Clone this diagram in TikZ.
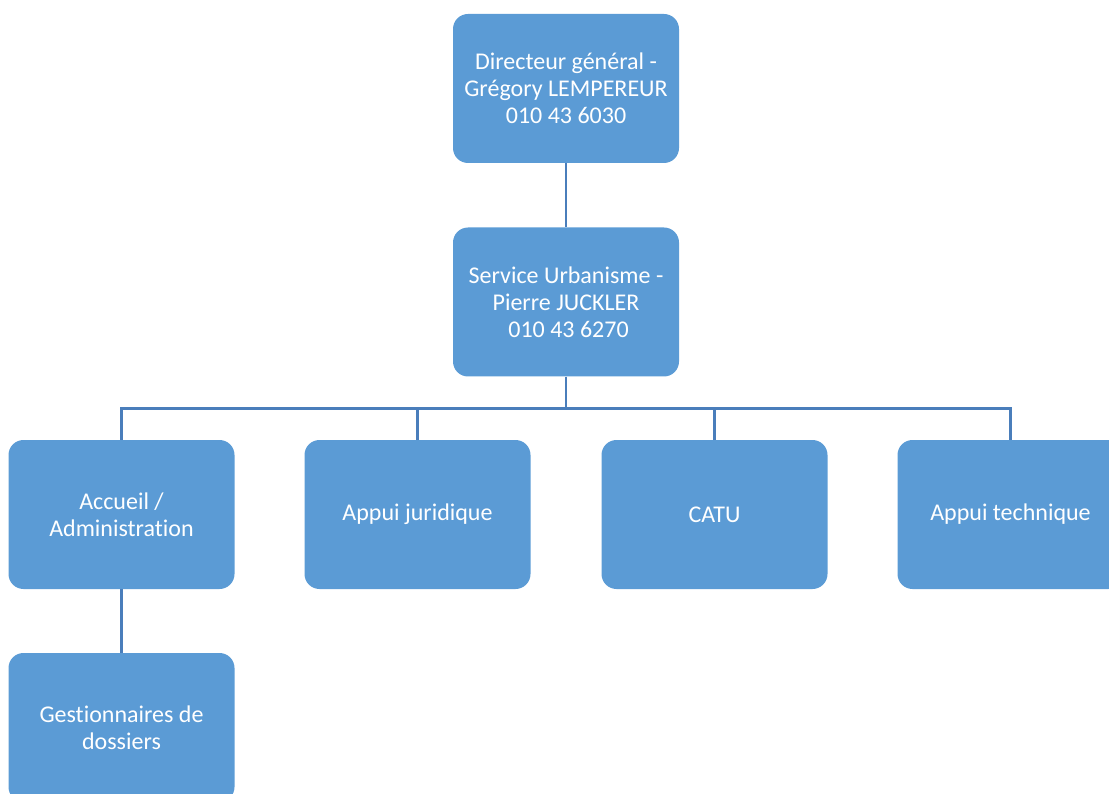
\documentclass[tikz,border=0pt]{standalone}
\usepackage{fontspec}
\setmainfont[Ligatures=NoCommon]{Carlito}
\usetikzlibrary{positioning}
\definecolor{boxblue}{HTML}{5B9BD5}
\definecolor{linkblue}{HTML}{4A7EBB}
\tikzset{
  orgbox/.style={fill=boxblue,draw=none,rounded corners=15pt,minimum width=226pt,minimum height=149pt,
    inner sep=2pt,text=white,align=center,font=\fontsize{24}{27}\selectfont},
  link/.style={draw=linkblue,line width=2.5pt}
}
\begin{document}
\begin{tikzpicture}[x=1pt,y=-1pt]
\useasboundingbox (0,0) rectangle (1109,794);
\clip (0,0) rectangle (1109,794);
\node[orgbox] (dg) at (566,88.5) {Directeur général -\\Grégory LEMPEREUR\\010 43 6030};
\node[orgbox] (urb) at (566,302) {Service Urbanisme -\\Pierre JUCKLER\\\hspace{5pt}010 43 6270};
\node[orgbox] (acc) at (121.5,514.5) {Accueil /\\Administration};
\node[orgbox] (jur) at (417.5,514.5) {Appui juridique};
\node[orgbox] (catu) at (714.5,514.5) {CATU};
\node[orgbox] (tech) at (1010.5,514.5) {Appui technique};
\node[orgbox] (gest) at (121.5,727.5) {Gestionnaires de\\dossiers};
\coordinate (bus) at (566,408.5);
\draw[link] (dg.south) -- (urb.north);
\draw[link] (urb.south) -- (bus);
\foreach \n in {acc,jur,catu,tech}
  \draw[link] (\n.north) |- (bus);
\draw[link] (acc.south) -- (gest.north);
\end{tikzpicture}
\end{document}
